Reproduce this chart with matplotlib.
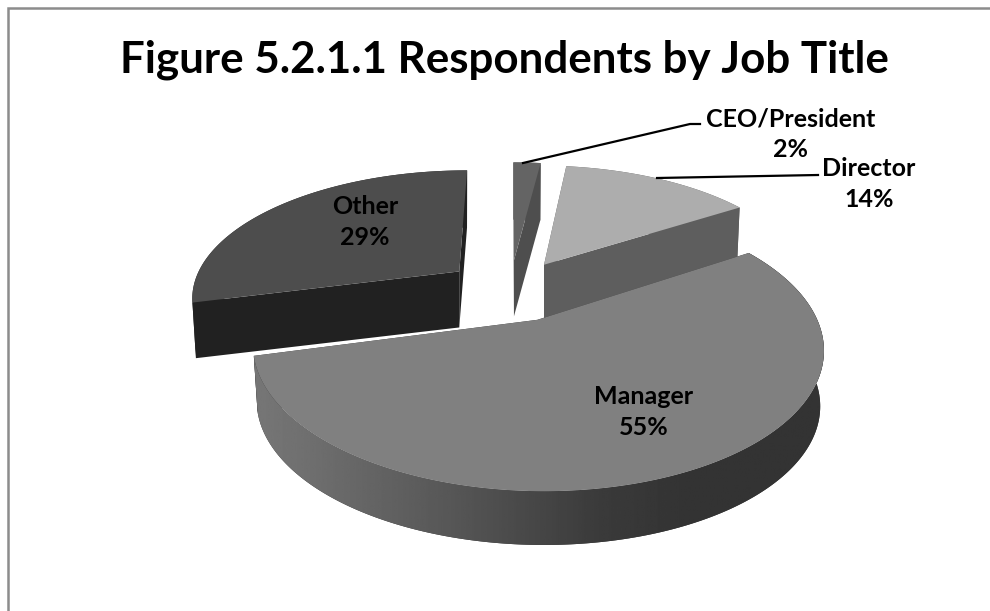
import numpy as np
import matplotlib
matplotlib.use("Agg")
import matplotlib.pyplot as plt
from matplotlib.patches import Polygon

title = "Figure 5.2.1.1 Respondents by Job Title"
job_titles = ["CEO/President", "Director", "Manager", "Other"]
shares = [2, 14, 55, 29]

top_colors = ["#646464", "#adadad", "#808080", "#4d4d4d"]
side_colors = ["#4e4e4e", "#5e5e5e", "#333333", "#212121"]
draw_order = [0, 3, 1, 2]

# pie geometry, in figure pixels
CX, CY = 510, 290
RADIUS = 268
EXPLODE = 66
TILT = 0.4715
PERSP = 0.0007
DEPTH = 56
BASE_SCALE = 0.987  # underside looks a little smaller than the top


def project(u, v):
    s = 1.0 / (1.0 + PERSP * v)
    return CX + u * s, CY - TILT * v * s


def arc(start, end, offset):
    t = np.radians(np.linspace(start, end, max(int(end - start) * 2, 6)))
    return offset[0] + RADIUS * np.sin(t), offset[1] + RADIUS * np.cos(t)


def wall_shade(x):
    return np.interp(x, [260, 300, 450, 600, 690], [0.46, 0.44, 0.34, 0.23, 0.2])


def draw_slice(ax, start, end, top, side, z, gradient=False):
    mid = np.radians((start + end) / 2)
    offset = (EXPLODE * np.sin(mid), EXPLODE * np.cos(mid))
    us, vs = arc(start, end, offset)
    x0, y0 = project(offset[0], offset[1])
    xt, yt = project(us, vs)
    xb = x0 + (xt - x0) * BASE_SCALE
    yb = y0 + (yt - y0) * BASE_SCALE + DEPTH

    # radial cut faces
    for k in (0, -1):
        face = [(x0, y0), (xt[k], yt[k]), (xb[k], yb[k]), (x0, y0 + DEPTH)]
        ax.add_patch(Polygon(face, fc=side, ec="none", zorder=z))

    # outer wall
    wall_pts = list(zip(xt, yt)) + list(zip(xb[::-1], yb[::-1]))
    wall = Polygon(wall_pts, fc=side, ec="none", zorder=z + 1)
    ax.add_patch(wall)
    if gradient:
        xs = np.linspace(xt.min(), xt.max(), 300)
        shade = wall_shade(xs)[np.newaxis, :]
        im = ax.imshow(shade, cmap="gray", vmin=0, vmax=1, aspect="auto", zorder=z + 1,
                       extent=(xt.min(), xt.max(), yb.max(), yt.min()))
        im.set_clip_path(wall)
        ax.set_xlim(0, 990)
        ax.set_ylim(611, 0)

    # top surface
    ax.add_patch(Polygon([(x0, y0)] + list(zip(xt, yt)), fc=top, ec="none", zorder=z + 2))


fig = plt.figure(figsize=(9.9, 6.11), dpi=100)
ax = fig.add_axes([0, 0, 1, 1])
ax.set_xlim(0, 990)
ax.set_ylim(611, 0)
ax.axis("off")

# chart frame, open at the right and bottom
ax.plot([8, 8, 990], [611, 8, 8], color="#8c8c8c", lw=1.8, solid_joinstyle="miter")

ends = np.cumsum(shares) / sum(shares) * 360
starts = np.concatenate(([0], ends[:-1]))
for n, i in enumerate(draw_order):
    draw_slice(ax, starts[i], ends[i], top_colors[i], side_colors[i], 10 * (n + 1),
               gradient=(job_titles[i] == "Manager"))

ax.plot([523, 690, 700], [163, 124, 124], color="black", lw=1.6, zorder=50)
ax.plot([657, 818], [178, 175], color="black", lw=1.6, zorder=50)

plt.rcParams["font.family"] = ["Lato", "DejaVu Sans"]
ax.text(504, 60, title, ha="center", va="center", fontsize=31.6, fontweight="bold", color="black", zorder=60)

label_pos = [(791, 134), (869, 184), (644, 412), (365, 222)]
for name, share, (x, y) in zip(job_titles, shares, label_pos):
    ax.text(x, y, f"{name}\n{share}%", ha="center", va="center", fontsize=18, fontweight="bold",
            linespacing=1.42, color="black", zorder=60)

fig.savefig("out.png", dpi=100)
